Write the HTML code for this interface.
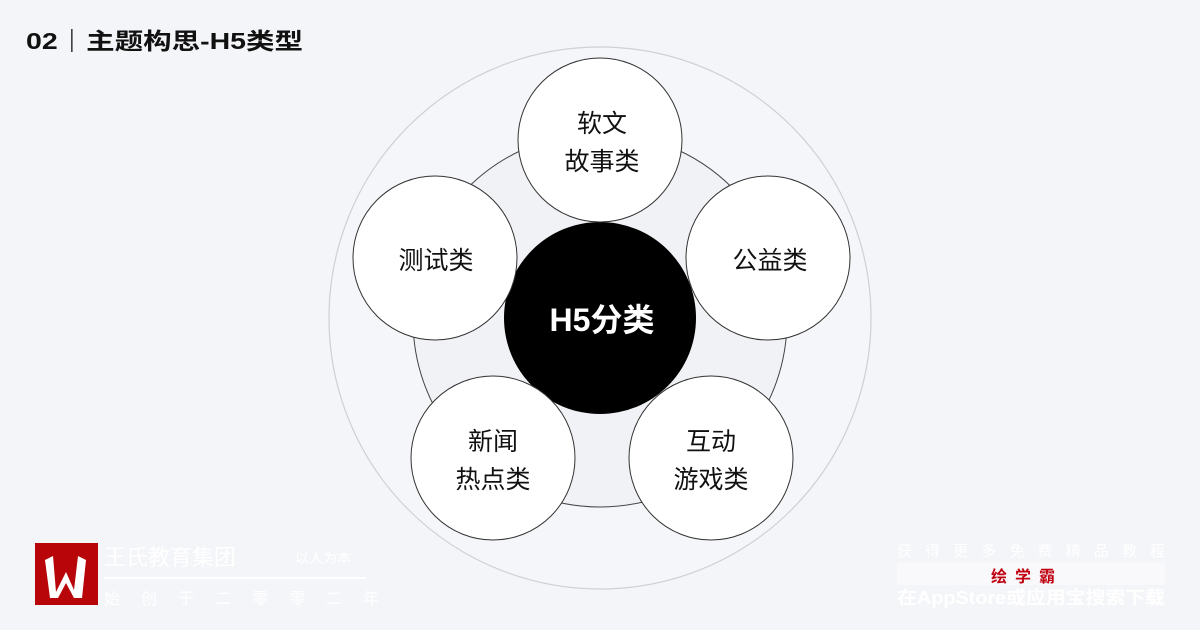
<!DOCTYPE html>
<html><head><meta charset="utf-8"><style>
body{margin:0;width:1200px;height:630px;overflow:hidden;background:#f4f5f8;font-family:"Liberation Sans","Noto Sans CJK SC",sans-serif;position:relative}
</style></head><body>
<svg width="1200" height="630" style="position:absolute;left:0;top:0">
<text x="26" y="49" font-family="Liberation Sans, Noto Sans CJK SC, sans-serif" font-size="23" font-weight="bold" fill="#111" textLength="277" lengthAdjust="spacingAndGlyphs">02｜主题构思-H5类型</text>
<circle cx="600" cy="318" r="271" fill="#f5f6f9" stroke="#cfd0d4" stroke-width="1.2"/>
<circle cx="600" cy="320" r="187" fill="#f1f2f5" stroke="#444" stroke-width="1"/>
<circle cx="600" cy="318" r="96" fill="#000"/>
<g fill="#fff" stroke="#333" stroke-width="1">
<circle cx="600" cy="140" r="82"/>
<circle cx="435" cy="258" r="82"/>
<circle cx="768" cy="258" r="82"/>
<circle cx="493" cy="458" r="82"/>
<circle cx="711" cy="458" r="82"/>
</g>
<g font-family="Liberation Sans, Noto Sans CJK SC, sans-serif" font-size="25" fill="#111" text-anchor="middle">
<text x="602" y="132">软文</text><text x="602" y="170">故事类</text>
<text x="436" y="269">测试类</text>
<text x="770" y="269">公益类</text>
<text x="493" y="450">新闻</text><text x="493" y="488">热点类</text>
<text x="711" y="450">互动</text><text x="711" y="488">游戏类</text>
<text x="602" y="331" font-size="32" font-weight="bold" fill="#fff">H5分类</text>
</g>
<rect x="35" y="543" width="63" height="62" fill="#b8050a"/>
<path d="M45 560 L53 556 L56 592 L66 572 L74 590 L78 556 L86 560 L82 598 L74 598 L66 583 L58 598 L50 598Z" fill="#fff"/>
<g fill="#fff" font-family="Liberation Sans, Noto Sans CJK SC, sans-serif">
<text x="104" y="565" font-size="22">王氏教育集团</text>
<text x="295" y="563" font-size="14">以人为本</text>
<rect x="104" y="577" width="262" height="2"/>
<text x="104" y="604" font-size="16" letter-spacing="21">始创于二零零二年</text>
<text x="897" y="556" font-size="15" textLength="268" lengthAdjust="spacing">获得更多免费精品教程</text>
<rect x="897" y="563" width="268" height="22" fill="#f9f9fb"/>
<text x="991" y="582" font-size="16" font-weight="bold" fill="#c00010" letter-spacing="8">绘学霸</text>
<text x="897" y="604" font-size="18" font-weight="bold" textLength="268" lengthAdjust="spacingAndGlyphs">在AppStore或应用宝搜索下载</text>
</g>
</svg>
</body></html>
